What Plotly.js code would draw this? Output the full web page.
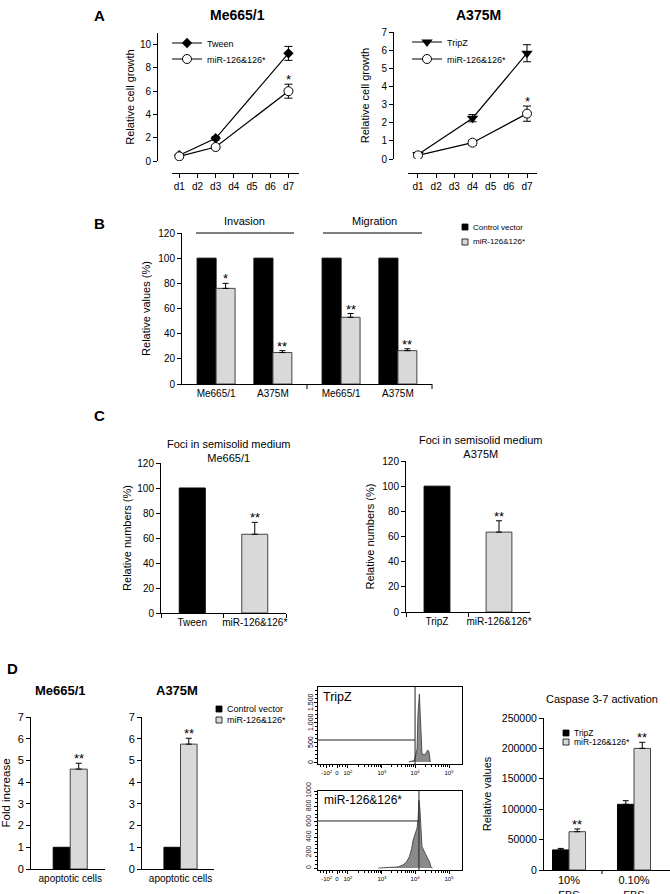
<!DOCTYPE html>
<html><head><meta charset="utf-8">
<script src="https://cdn.plot.ly/plotly-3.0.1.min.js"></script>
<style>html,body{margin:0;padding:0;background:#fff;} #chart{width:670px;height:894px;}</style>
</head><body><div id="chart"></div>
<script>
// ---------------- data ----------------
const growthDays = ['d1','d2','d3','d4','d5','d6','d7'];
const meDays = ['d1','d3','d7'];
const meTween = [0.5, 1.95, 9.25];
const meTweenErr = [0.08, 0.15, 0.6];
const meMir = [0.4, 1.2, 6.0];
const meMirErr = [0.08, 0.12, 0.6];
const a375Days = ['d1','d4','d7'];
const a375Tripz = [0.25, 2.25, 5.83];
const a375TripzErr = [0.08, 0.2, 0.47];
const a375Mir = [0.2, 0.9, 2.5];
const a375MirErr = [0.08, 0.15, 0.42];

const cellLines = ['Me665/1', 'A375M'];
const invControl = [100, 100];
const invMir = [76, 25];
const invMirErr = [4, 1.5];
const invStars = ['*', '**'];
const migControl = [100, 100];
const migMir = [53, 26.5];
const migMirErr = [3, 1.5];
const migStars = ['**', '**'];

const fociMeCats = ['Tween', 'miR-126&126*'];
const fociMe = [100, 63];
const fociMeErr = [0, 9.5];
const fociACats = ['TripZ', 'miR-126&126*'];
const fociA = [100, 63.5];
const fociAErr = [0, 9];

const apopCat = ['apoptotic cells'];
const apopMeControl = [1];
const apopMeMir = [4.6];
const apopMeMirErr = [0.27];
const apopAControl = [1];
const apopAMir = [5.75];
const apopAMirErr = [0.27];

const histTripzChannel = [630, 646, 670, 688, 694, 704, 709, 713, 718, 722, 743, 755, 762, 771, 776, 780];
const histTripzCount   = [0, 20, 40, 325, 1175, 1700, 1300, 750, 380, 200, 175, 250, 300, 250, 100, 0];
const histMirChannel = [420, 480, 530, 556, 590, 615, 635, 650, 660, 675, 688, 695, 701, 708, 715, 722, 743, 764, 775, 785, 795];
const histMirCount   = [0, 3, 8, 15, 40, 80, 150, 250, 360, 440, 520, 640, 880, 760, 420, 280, 195, 120, 80, 10, 0];
const gateTripz = {channel: 674, count: 550};
const gateMir = {channel: 701, count: 611};
const histTickVals = [60, 132, 208, 444, 674, 910];
const histTickText = ['-10<sup>2</sup>', '0', '10<sup>2</sup>', '10<sup>3</sup>', '10<sup>4</sup>', '10<sup>5</sup>'];
const histTripzCountTicks = [0, 500, 1000, 1500];
const histTripzCountText = ['0', '500', '1,000', '1,500'];

const caspCats = ['10%<br>FBS', '0.10%<br>FBS'];
const caspTripz = [33000, 108000];
const caspTripzErr = [2500, 6000];
const caspMir = [63000, 200000];
const caspMirErr = [4500, 10000];

// ---------------- helpers ----------------
const FONT = 'Liberation Sans, Arial, Helvetica, sans-serif';
const W = 670, H = 894;
const X = p => p / W;
const Y = p => 1 - p / H;
const xd = (a, b) => [a / W, b / W];
const yd = (top, bottom) => [1 - bottom / H, 1 - top / H];
const BLACK = '#000000', GREY = '#d9d9d9';

function ax(extra) {
  return Object.assign({
    showline: true, linecolor: BLACK, linewidth: 1, ticks: 'outside', ticklen: 4,
    tickcolor: BLACK, tickwidth: 1, showgrid: false, zeroline: false, fixedrange: true,
    tickfont: {family: FONT, size: 10, color: BLACK}
  }, extra);
}
function ttl(text, size, standoff) {
  return {text: text, font: {family: FONT, size: size || 11, color: BLACK}, standoff: standoff};
}
function errSym(arr) {
  return {type: 'data', array: arr, color: BLACK, thickness: 1, width: 4, visible: true};
}
function errUp(arr) {
  return {type: 'data', array: arr, arrayminus: arr.map(() => 0), symmetric: false,
          color: BLACK, thickness: 1, width: 3, visible: true};
}
function txt(x, y, text, size, opts) {
  return Object.assign({xref: 'paper', yref: 'paper', x: X(x), y: Y(y), text: text, showarrow: false,
    xanchor: 'center', yanchor: 'middle', font: {family: FONT, size: size, color: BLACK}}, opts || {});
}
function star(xref, yref, x, y, text) {
  return {xref: xref, yref: yref, x: x, y: y, text: text, showarrow: false, xanchor: 'center',
    yanchor: 'bottom', yshift: -5, font: {family: FONT, size: 13, color: BLACK}};
}
function pline(x0, y0, x1, y1, w) {
  return {type: 'line', xref: 'paper', yref: 'paper', x0: X(x0), y0: Y(y0), x1: X(x1), y1: Y(y1),
    line: {color: BLACK, width: w || 1}};
}
function prect(x0, y0, x1, y1, fill) {
  return {type: 'rect', xref: 'paper', yref: 'paper', x0: X(x0), y0: Y(y0), x1: X(x1), y1: Y(y1),
    fillcolor: fill, line: {color: BLACK, width: 0.8}};
}

const traces = [];
const annotations = [];
const shapes = [];

// ---------------- A: growth curves ----------------
traces.push({type: 'scatter', mode: 'lines+markers', name: 'Tween', x: meDays, y: meTween,
  xaxis: 'x', yaxis: 'y', legend: 'legend',
  line: {color: BLACK, width: 1.2}, marker: {symbol: 'diamond', size: 8, color: BLACK},
  error_y: errSym(meTweenErr)});
traces.push({type: 'scatter', mode: 'lines+markers', name: 'miR-126&126*', x: meDays, y: meMir,
  xaxis: 'x', yaxis: 'y', legend: 'legend3',
  line: {color: BLACK, width: 1.2}, marker: {symbol: 'circle', size: 9, color: '#ffffff', line: {color: BLACK, width: 1}},
  error_y: errSym(meMirErr)});
traces.push({type: 'scatter', mode: 'lines+markers', name: 'TripZ', x: a375Days, y: a375Tripz,
  xaxis: 'x2', yaxis: 'y2', legend: 'legend2',
  line: {color: BLACK, width: 1.2}, marker: {symbol: 'triangle-down', size: 10, color: BLACK},
  error_y: errSym(a375TripzErr)});
traces.push({type: 'scatter', mode: 'lines+markers', name: 'miR-126&126*', x: a375Days, y: a375Mir,
  xaxis: 'x2', yaxis: 'y2', legend: 'legend4',
  line: {color: BLACK, width: 1.2}, marker: {symbol: 'circle', size: 9, color: '#ffffff', line: {color: BLACK, width: 1}},
  error_y: errSym(a375MirErr)});
annotations.push(star('x', 'y', growthDays.indexOf('d7'), meMir[2] + meMirErr[2], '*'));
annotations.push(star('x2', 'y2', growthDays.indexOf('d7'), a375Mir[2] + a375MirErr[2], '*'));
annotations.push(txt(100, 15, '<b>A</b>', 15));
annotations.push(txt(237, 15, '<b>Me665/1</b>', 14));
annotations.push(txt(478, 15, '<b>A375M</b>', 14));

// ---------------- B: invasion / migration ----------------
const bW = 0.334;
traces.push({type: 'bar', name: 'Control vector', x: cellLines, y: invControl, xaxis: 'x3', yaxis: 'y3',
  width: bW, offset: -bW, marker: {color: BLACK, line: {color: BLACK, width: 1}}, showlegend: false});
traces.push({type: 'bar', name: 'miR-126&126*', x: cellLines, y: invMir, xaxis: 'x3', yaxis: 'y3',
  width: bW, offset: 0, marker: {color: GREY, line: {color: '#444', width: 1}}, error_y: errUp(invMirErr), showlegend: false});
traces.push({type: 'bar', name: 'Control vector', x: cellLines, y: migControl, xaxis: 'x4', yaxis: 'y3',
  width: bW, offset: -bW, marker: {color: BLACK, line: {color: BLACK, width: 1}}, showlegend: false});
traces.push({type: 'bar', name: 'miR-126&126*', x: cellLines, y: migMir, xaxis: 'x4', yaxis: 'y3',
  width: bW, offset: 0, marker: {color: GREY, line: {color: '#444', width: 1}}, error_y: errUp(migMirErr), showlegend: false});
cellLines.forEach((c, i) => {
  annotations.push(star('x3', 'y3', i + bW / 2, invMir[i] + invMirErr[i], invStars[i]));
  annotations.push(star('x4', 'y3', i + bW / 2, migMir[i] + migMirErr[i], migStars[i]));
});
annotations.push(txt(100, 223, '<b>B</b>', 15));
annotations.push(txt(244, 221, 'Invasion', 11));
annotations.push(txt(375, 221, 'Migration', 11));
shapes.push(pline(196, 233, 294, 233, 1.2));
shapes.push(pline(323, 233, 422, 233, 1.2));
shapes.push(pline(307, 384, 307, 389));
shapes.push(pline(432, 384, 432, 389));
shapes.push(prect(462, 224, 468, 230, BLACK));
shapes.push(prect(462, 239, 468, 245, GREY));
annotations.push(txt(471, 227, 'Control vector', 8, {xanchor: 'left'}));
annotations.push(txt(471, 242, 'miR-126&126*', 8, {xanchor: 'left'}));

// ---------------- C: foci ----------------
const cW = 0.416;
traces.push({type: 'bar', name: fociMeCats[0], x: [fociMeCats[0]], y: [fociMe[0]], xaxis: 'x5', yaxis: 'y5',
  width: cW, offset: -cW / 2, marker: {color: BLACK, line: {color: BLACK, width: 1}}, showlegend: false});
traces.push({type: 'bar', name: fociMeCats[1], x: [fociMeCats[1]], y: [fociMe[1]], xaxis: 'x5', yaxis: 'y5',
  width: cW, offset: -cW / 2, marker: {color: GREY, line: {color: '#444', width: 1}}, error_y: errUp([fociMeErr[1]]), showlegend: false});
traces.push({type: 'bar', name: fociACats[0], x: [fociACats[0]], y: [fociA[0]], xaxis: 'x6', yaxis: 'y6',
  width: cW, offset: -cW / 2, marker: {color: BLACK, line: {color: BLACK, width: 1}}, showlegend: false});
traces.push({type: 'bar', name: fociACats[1], x: [fociACats[1]], y: [fociA[1]], xaxis: 'x6', yaxis: 'y6',
  width: cW, offset: -cW / 2, marker: {color: GREY, line: {color: '#444', width: 1}}, error_y: errUp([fociAErr[1]]), showlegend: false});
annotations.push(star('x5', 'y5', 1, fociMe[1] + fociMeErr[1], '**'));
annotations.push(star('x6', 'y6', 1, fociA[1] + fociAErr[1], '**'));
annotations.push(txt(100, 416, '<b>C</b>', 15));
annotations.push(txt(229, 451, 'Foci in semisolid medium<br>Me665/1', 11));
annotations.push(txt(480, 447, 'Foci in semisolid medium<br>A375M', 11));

// ---------------- D: apoptosis ----------------
const dW = 0.23;
traces.push({type: 'bar', name: 'Control vector', x: apopCat, y: apopMeControl, xaxis: 'x7', yaxis: 'y7',
  width: dW, offset: -dW, marker: {color: BLACK, line: {color: BLACK, width: 1}}, showlegend: false});
traces.push({type: 'bar', name: 'miR-126&126*', x: apopCat, y: apopMeMir, xaxis: 'x7', yaxis: 'y7',
  width: dW, offset: 0, marker: {color: GREY, line: {color: '#444', width: 1}}, error_y: errUp(apopMeMirErr), showlegend: false});
traces.push({type: 'bar', name: 'Control vector', x: apopCat, y: apopAControl, xaxis: 'x8', yaxis: 'y8',
  width: dW, offset: -dW, marker: {color: BLACK, line: {color: BLACK, width: 1}}, showlegend: false});
traces.push({type: 'bar', name: 'miR-126&126*', x: apopCat, y: apopAMir, xaxis: 'x8', yaxis: 'y8',
  width: dW, offset: 0, marker: {color: GREY, line: {color: '#444', width: 1}}, error_y: errUp(apopAMirErr), showlegend: false});
annotations.push(star('x7', 'y7', dW / 2, apopMeMir[0] + apopMeMirErr[0], '**'));
annotations.push(star('x8', 'y8', dW / 2, apopAMir[0] + apopAMirErr[0], '**'));
annotations.push(txt(12, 668, '<b>D</b>', 15));
annotations.push(txt(60, 690, '<b>Me665/1</b>', 13));
annotations.push(txt(177, 690, '<b>A375M</b>', 13));
shapes.push(prect(216, 706, 222, 712, BLACK));
shapes.push(prect(216, 717, 222, 723, GREY));
annotations.push(txt(225, 709, 'Control vector', 9, {xanchor: 'left'}));
annotations.push(txt(225, 720, 'miR-126&126*', 9, {xanchor: 'left'}));

// ---------------- D: flow histograms ----------------
traces.push({type: 'scatter', mode: 'lines', name: 'TripZ', x: histTripzChannel, y: histTripzCount,
  xaxis: 'x9', yaxis: 'y9', fill: 'tozeroy', fillcolor: '#8a8a8a', line: {color: '#333', width: 0.8}, showlegend: false});
traces.push({type: 'scatter', mode: 'lines', name: 'miR-126&126*', x: histMirChannel, y: histMirCount,
  xaxis: 'x10', yaxis: 'y10', fill: 'tozeroy', fillcolor: '#8a8a8a', line: {color: '#333', width: 0.8}, showlegend: false});
function gate(xr, yr, g, ymin, ymax) {
  shapes.push({type: 'line', xref: xr, yref: yr, x0: 0, x1: g.channel, y0: g.count, y1: g.count, line: {color: '#222', width: 1}});
  shapes.push({type: 'line', xref: xr, yref: yr, x0: g.channel, x1: g.channel, y0: ymin, y1: ymax, line: {color: '#222', width: 1}});
}
gate('x9', 'y9', gateTripz, -50, 1875);
gate('x10', 'y10', gateMir, -25, 1000);
annotations.push(txt(321, 697, 'TripZ', 12.5, {xanchor: 'left'}));
annotations.push(txt(322, 800, 'miR-126&126*', 12, {xanchor: 'left'}));
histTripzCountTicks.forEach((v, i) => annotations.push({xref: 'paper', yref: 'y9', x: X(310), y: v,
  text: histTripzCountText[i], textangle: -90, showarrow: false, xanchor: 'center', yanchor: 'middle',
  font: {family: FONT, size: 7, color: BLACK}}));
const histMinor = [];
[20, 40, 80, 100, 150, 170, 190].forEach(v => histMinor.push(v));
for (let d = 0; d < 3; d++) {
  const a = histTickVals[2 + d], b = histTickVals[3 + d];
  for (let k = 2; k < 10; k++) histMinor.push(a + Math.log10(k) * (b - a));
}

// ---------------- D: caspase ----------------
const kW = 0.254;
traces.push({type: 'bar', name: 'TripZ', x: caspCats, y: caspTripz, xaxis: 'x11', yaxis: 'y11',
  width: kW, offset: -kW, marker: {color: BLACK, line: {color: BLACK, width: 1}}, error_y: errUp(caspTripzErr), showlegend: false});
traces.push({type: 'bar', name: 'miR-126&126*', x: caspCats, y: caspMir, xaxis: 'x11', yaxis: 'y11',
  width: kW, offset: 0, marker: {color: GREY, line: {color: '#444', width: 1}}, error_y: errUp(caspMirErr), showlegend: false});
caspCats.forEach((c, i) => annotations.push(star('x11', 'y11', i + kW / 2, caspMir[i] + caspMirErr[i], '**')));
annotations.push(txt(602, 699, 'Caspase 3-7 activation', 11));
shapes.push(pline(602, 870, 602, 874));
shapes.push(prect(563, 730, 569, 736, BLACK));
shapes.push(prect(563, 739, 569, 745, GREY));
annotations.push(txt(572, 733, 'TripZ', 8.5, {xanchor: 'left'}));
annotations.push(txt(572, 742, 'miR-126&126*', 8.5, {xanchor: 'left'}));

// ---------------- layout ----------------
const legendBase = {bgcolor: 'rgba(0,0,0,0)', borderwidth: 0, font: {family: FONT, size: 9, color: BLACK},
  xanchor: 'left', yanchor: 'middle', itemwidth: 30, tracegroupgap: 0};
const layout = {
  width: W, height: H, margin: {l: 0, r: 0, t: 0, b: 0}, paper_bgcolor: '#fff', plot_bgcolor: 'rgba(0,0,0,0)',
  font: {family: FONT, color: BLACK}, barmode: 'group', showlegend: true,
  legend: Object.assign({}, legendBase, {x: X(167), y: Y(43)}),
  legend3: Object.assign({}, legendBase, {x: X(167), y: Y(59)}),
  legend2: Object.assign({}, legendBase, {x: X(407), y: Y(42)}),
  legend4: Object.assign({}, legendBase, {x: X(407), y: Y(59)}),
  // A left
  xaxis: ax({domain: xd(172, 299), anchor: 'free', position: Y(173), type: 'category', categoryarray: growthDays,
    categoryorder: 'array', range: [-0.4, 6.58]}),
  yaxis: ax({domain: yd(33, 161), anchor: 'free', position: X(157), range: [0, 11], tickvals: [0, 2, 4, 6, 8, 10],
    title: ttl('Relative cell growth', 11, 2)}),
  // A right
  xaxis2: ax({domain: xd(408, 537), anchor: 'free', position: Y(173), type: 'category', categoryarray: growthDays,
    categoryorder: 'array', range: [-0.55, 6.55]}),
  yaxis2: ax({domain: yd(32, 159), anchor: 'free', position: X(393), range: [0, 7], dtick: 1,
    title: ttl('Relative cell growth', 11, 8)}),
  // B
  xaxis3: ax({domain: xd(182, 307), anchor: 'y3', type: 'category', range: [-0.6, 1.6], ticks: '', tickangle: 0}),
  xaxis4: ax({domain: xd(307, 432), anchor: 'y3', type: 'category', range: [-0.6, 1.6], ticks: '', tickangle: 0}),
  yaxis3: ax({domain: yd(233, 384), anchor: 'x3', range: [0, 120], dtick: 20, title: ttl('Relative values (%)', 11, 5)}),
  // C
  xaxis5: ax({domain: xd(161, 286), anchor: 'y5', type: 'category', range: [-0.5, 1.5], tickson: 'boundaries', tickangle: 0}),
  yaxis5: ax({domain: yd(463, 613), anchor: 'x5', range: [0, 120], dtick: 20, title: ttl('Relative numbers (%)', 11, 3)}),
  xaxis6: ax({domain: xd(406, 530), anchor: 'y6', type: 'category', range: [-0.5, 1.5], tickson: 'boundaries', tickangle: 0}),
  yaxis6: ax({domain: yd(461, 612), anchor: 'x6', range: [0, 120], dtick: 20, title: ttl('Relative numbers (%)', 11, 5)}),
  // D apoptosis
  xaxis7: ax({domain: xd(31, 105), anchor: 'y7', type: 'category', range: [-0.53, 0.47], ticks: '', tickangle: 0}),
  yaxis7: ax({domain: yd(717, 869), anchor: 'x7', range: [0, 7], dtick: 1, tickfont: {family: FONT, size: 11, color: BLACK},
    title: ttl('Fold increase', 11.5, 8)}),
  xaxis8: ax({domain: xd(142, 214), anchor: 'y8', type: 'category', range: [-0.535, 0.465], ticks: '', tickangle: 0}),
  yaxis8: ax({domain: yd(717, 869), anchor: 'x8', range: [0, 7], dtick: 1, tickfont: {family: FONT, size: 11, color: BLACK}}),
  // D histograms
  xaxis9: ax({domain: xd(318, 462), anchor: 'y9', range: [0, 1000], mirror: true, ticklen: 3, tickvals: histTickVals, ticktext: histTickText,
    tickangle: 0, tickfont: {family: FONT, size: 6, color: BLACK}, minor: {tickvals: histMinor, ticks: 'outside', ticklen: 2, tickcolor: BLACK}}),
  yaxis9: ax({domain: yd(687, 764), anchor: 'x9', range: [-50, 1875], mirror: true, ticklen: 3, tickvals: histTripzCountTicks,
    showticklabels: false, minor: {dtick: 100, ticks: 'outside', ticklen: 2, tickcolor: BLACK}}),
  xaxis10: ax({domain: xd(318, 462), anchor: 'y10', range: [0, 1000], mirror: true, ticklen: 3, tickvals: histTickVals, ticktext: histTickText,
    tickangle: 0, tickfont: {family: FONT, size: 6, color: BLACK}, minor: {tickvals: histMinor, ticks: 'outside', ticklen: 2, tickcolor: BLACK}}),
  yaxis10: ax({domain: yd(791, 870), anchor: 'x10', range: [-25, 1000], mirror: true, ticklen: 3, dtick: 200,
    tickangle: -90, tickfont: {family: FONT, size: 7, color: '#222'}, minor: {dtick: 50, ticks: 'outside', ticklen: 2, tickcolor: BLACK}}),
  // D caspase
  xaxis11: ax({domain: xd(544, 670), anchor: 'y11', type: 'category', range: [-0.385, 1.554], ticks: '', tickangle: 0,
    tickfont: {family: FONT, size: 11, color: BLACK}}),
  yaxis11: ax({domain: yd(718, 870), anchor: 'x11', range: [0, 250000], dtick: 50000, tickformat: 'd', tickfont: {family: FONT, size: 10.5, color: BLACK},
    title: ttl('Relative values', 11, 8)}),
  annotations: annotations, shapes: shapes
};
Plotly.newPlot('chart', traces, layout, {staticPlot: true, displayModeBar: false});
</script></body></html>
